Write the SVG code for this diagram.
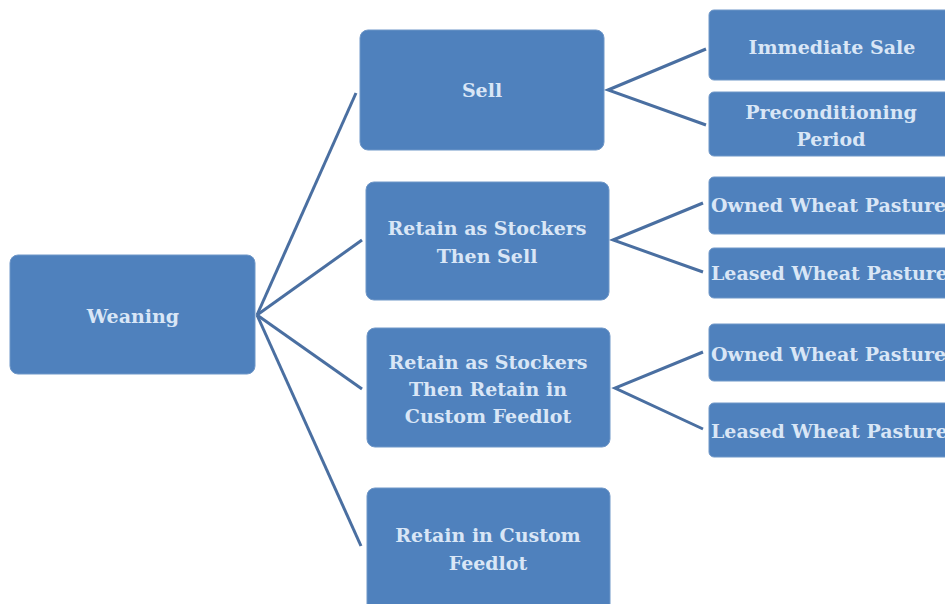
<svg xmlns="http://www.w3.org/2000/svg" width="945" height="604" viewBox="0 0 945 604">
<style>
.box{fill:#4f81bd;stroke:#6f97c8;stroke-width:1}
.t{font-family:"DejaVu Serif","Liberation Serif",serif;font-size:19px;font-weight:bold;fill:#d9e6f6;text-anchor:middle}
.tl{font-family:"DejaVu Serif","Liberation Serif",serif;font-size:19px;font-weight:bold;fill:#d9e6f6}
.c{stroke:#4a6fa1;stroke-width:3;fill:none}
</style>
<rect width="945" height="604" fill="#ffffff"/>
<g id="connectors">
<line class="c" x1="257" y1="315" x2="356" y2="93"/>
<line class="c" x1="257" y1="315" x2="362" y2="240"/>
<line class="c" x1="257" y1="315" x2="362" y2="389"/>
<line class="c" x1="257" y1="315" x2="361" y2="546"/>
<polyline class="c" points="706,49 608,90 706,125"/>
<polyline class="c" points="703,203 613,240 703,272"/>
<polyline class="c" points="703,352 615,388 703,429"/>
</g>
<g id="weaning"><rect class="box" x="10" y="255" width="245" height="119" rx="8"/><text class="t" x="133" y="323">Weaning</text></g>
<g id="sell"><rect class="box" x="360" y="30" width="244" height="120" rx="8"/><text class="t" x="482" y="97">Sell</text></g>
<g id="stockers-sell"><rect class="box" x="366" y="182" width="243" height="118" rx="8"/><text class="t" x="487" y="235">Retain as Stockers</text><text class="t" x="487" y="263">Then Sell</text></g>
<g id="stockers-feedlot"><rect class="box" x="367" y="328" width="243" height="119" rx="8"/><text class="t" x="488" y="369">Retain as Stockers</text><text class="t" x="488" y="396">Then Retain in</text><text class="t" x="488" y="423">Custom Feedlot</text></g>
<g id="custom-feedlot"><rect class="box" x="367" y="488" width="243" height="125" rx="8"/><text class="t" x="488" y="542">Retain in Custom</text><text class="t" x="488" y="570">Feedlot</text></g>
<g id="immediate-sale"><rect class="box" x="709" y="10" width="250" height="70" rx="5"/><text class="t" x="832" y="54">Immediate Sale</text></g>
<g id="preconditioning"><rect class="box" x="709" y="92" width="250" height="64" rx="5"/><text class="t" x="831" y="119">Preconditioning</text><text class="t" x="831" y="146">Period</text></g>
<g id="owned-1"><rect class="box" x="709" y="177" width="250" height="57" rx="5"/><text class="tl" x="711" y="212">Owned Wheat Pasture</text></g>
<g id="leased-1"><rect class="box" x="709" y="248" width="250" height="50" rx="5"/><text class="tl" x="711" y="280">Leased Wheat Pasture</text></g>
<g id="owned-2"><rect class="box" x="709" y="324" width="250" height="57" rx="5"/><text class="tl" x="711" y="361">Owned Wheat Pasture</text></g>
<g id="leased-2"><rect class="box" x="709" y="403" width="250" height="54" rx="5"/><text class="tl" x="711" y="438">Leased Wheat Pasture</text></g>
</svg>
